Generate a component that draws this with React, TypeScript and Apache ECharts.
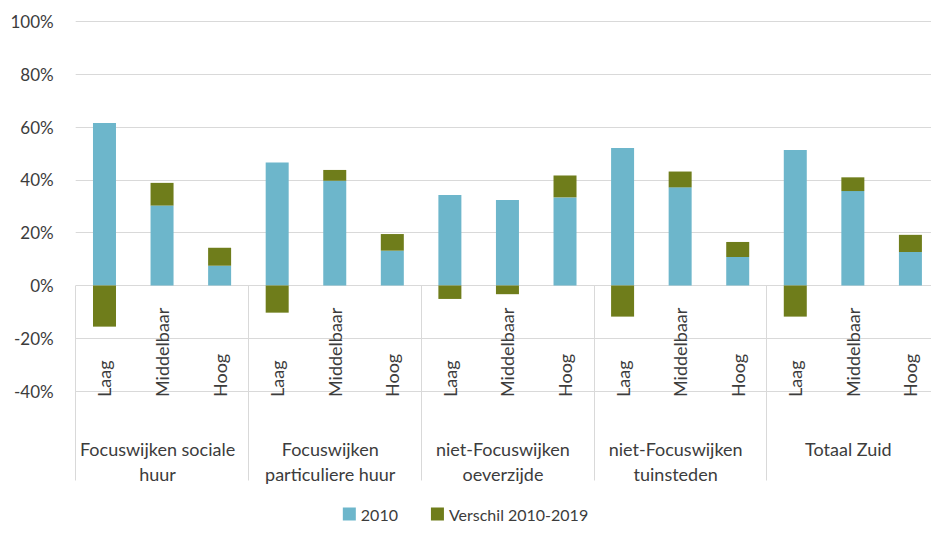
import React, { useEffect, useRef } from "react";
import * as echarts from "echarts";

const categories = [
  "Laag", "Middelbaar", "Hoog",
  "Laag", "Middelbaar", "Hoog",
  "Laag", "Middelbaar", "Hoog",
  "Laag", "Middelbaar", "Hoog",
  "Laag", "Middelbaar", "Hoog",
];
const groups = [
  "Focuswijken sociale\nhuur",
  "Focuswijken\nparticuliere huur",
  "niet-Focuswijken\noeverzijde",
  "niet-Focuswijken\ntuinsteden",
  "Totaal Zuid",
];
const values2010 = [61.6, 30.3, 7.5, 46.6, 39.7, 13.2, 34.3, 32.4, 33.4, 52.1, 37.2, 10.8, 51.4, 35.8, 12.7];
const valuesDiff = [-15.6, 8.6, 6.8, -10.3, 4.1, 6.3, -5.1, -3.3, 8.3, -11.8, 6.0, 5.7, -11.8, 5.2, 6.5];
const seriesNames = ["2010", "Verschil 2010-2019"];
const yTicks = { min: -40, max: 100, interval: 20 };

const FONT = "Lato";
const TEXT = "#3c3c3c";
const GRID = "#d9d9d9";
const BLUE = "#6db6cb";
const OLIVE = "#6f7d1b";

export default function App() {
  const ref = useRef<HTMLDivElement>(null);
  useEffect(() => {
    if (!ref.current) return;
    const chart = echarts.init(ref.current, null, { renderer: "svg" });
    chart.setOption({
      animation: false,
      textStyle: { fontFamily: FONT },
      grid: [
        { left: 75.7, width: 863.5, top: 21.7, height: 369.3, outerBoundsMode: "none", containLabel: false },
        { left: 75.7, width: 863.5, top: 285.5, height: 195, outerBoundsMode: "none", containLabel: false },
      ],
      legend: {
        data: seriesNames,
        top: 501,
        left: "center",
        icon: "rect",
        itemWidth: 13,
        itemHeight: 13,
        itemGap: 33,
        textStyle: { fontFamily: FONT, fontSize: 16, color: TEXT },
      },
      xAxis: [
        {
          type: "category",
          gridIndex: 0,
          data: categories,
          axisLine: { show: false },
          axisTick: { show: false },
          axisLabel: {
            interval: 0,
            rotate: 90,
            align: "left",
            verticalAlign: "middle",
            margin: 6,
            fontFamily: FONT,
            fontSize: 18,
            color: TEXT,
          },
        },
        {
          type: "category",
          gridIndex: 1,
          data: groups,
          axisLine: { show: false },
          axisTick: { show: false },
          splitLine: { show: true, interval: 0, lineStyle: { color: GRID, width: 1 } },
          axisLabel: {
            interval: 0,
            margin: -44,
            verticalAlign: "top",
            align: "center",
            lineHeight: 25,
            padding: [0, 9, 0, 0],
            fontFamily: FONT,
            fontSize: 18,
            color: TEXT,
          },
        },
      ],
      yAxis: [
        {
          type: "value",
          gridIndex: 0,
          min: yTicks.min,
          max: yTicks.max,
          interval: yTicks.interval,
          axisLine: { show: false },
          axisTick: { show: false },
          splitLine: { lineStyle: { color: GRID, width: 1 } },
          axisLabel: {
            formatter: "{value}%",
            margin: 22,
            fontFamily: FONT,
            fontSize: 17,
            color: TEXT,
          },
        },
        { type: "value", gridIndex: 1, show: false, min: 0, max: 1 },
      ],
      series: [
        {
          name: seriesNames[0],
          type: "bar",
          stack: "total",
          xAxisIndex: 0,
          yAxisIndex: 0,
          barWidth: 23,
          itemStyle: { color: BLUE },
          data: values2010,
        },
        {
          name: seriesNames[1],
          type: "bar",
          stack: "total",
          xAxisIndex: 0,
          yAxisIndex: 0,
          barWidth: 23,
          itemStyle: { color: OLIVE },
          data: valuesDiff,
        },
      ],
    });
    return () => chart.dispose();
  }, []);
  return (
    <div
      ref={ref}
      style={{ position: "fixed", left: 0, top: 0, width: 931, height: 535, background: "#fff" }}
    />
  );
}
